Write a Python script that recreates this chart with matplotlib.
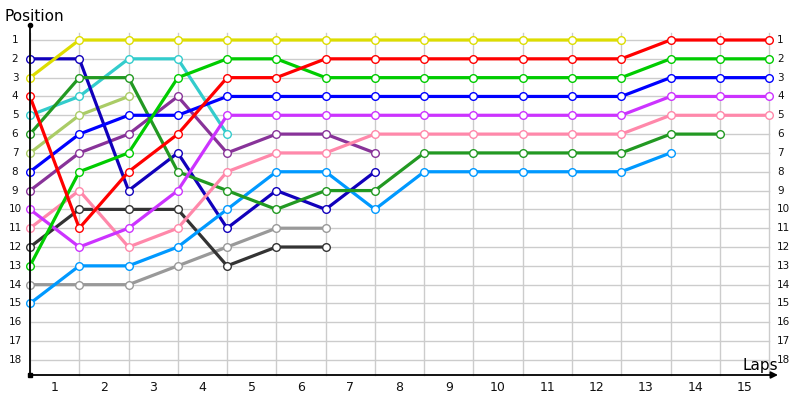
import matplotlib
matplotlib.use("Agg")
import matplotlib.pyplot as plt

# lap chart data: position of each driver after each lap (lap 0 = grid)
yellow = [3, 1, 1, 1, 1, 1, 1, 1, 1, 1, 1, 1, 1]
red = [4, 11, 8, 6, 3, 3, 2, 2, 2, 2, 2, 2, 2, 1, 1, 1]
green = [13, 8, 7, 3, 2, 2, 3, 3, 3, 3, 3, 3, 3, 2, 2, 2]
blue = [8, 6, 5, 5, 4, 4, 4, 4, 4, 4, 4, 4, 4, 3, 3, 3]
violet = [10, 12, 11, 9, 5, 5, 5, 5, 5, 5, 5, 5, 5, 4, 4, 4]
pink = [11, 9, 12, 11, 8, 7, 7, 6, 6, 6, 6, 6, 6, 5, 5, 5]
dark_green = [6, 3, 3, 8, 9, 10, 9, 9, 7, 7, 7, 7, 7, 6, 6]
sky = [15, 13, 13, 12, 10, 8, 8, 10, 8, 8, 8, 8, 8, 7]
indigo = [2, 2, 9, 7, 11, 9, 10, 8]
plum = [9, 7, 6, 4, 7, 6, 6, 7]
cyan = [5, 4, 2, 2, 6]
lime = [7, 5, 4]
charcoal = [12, 10, 10, 10, 13, 12, 12]
grey = [14, 14, 14, 13, 12, 11, 11]

series = [
    (grey, "#999999"),
    (charcoal, "#333333"),
    (lime, "#aacc66"),
    (cyan, "#33cccc"),
    (plum, "#883399"),
    (indigo, "#1100bb"),
    (sky, "#0099ff"),
    (dark_green, "#229922"),
    (pink, "#ff88aa"),
    (violet, "#cc33ff"),
    (blue, "#0000ff"),
    (green, "#00cc00"),
    (red, "#ff0000"),
    (yellow, "#dddd00"),
]

laps = list(range(1, 16))
positions = list(range(1, 19))

fig = plt.figure(figsize=(8, 4), dpi=100)
ax = fig.add_axes([0, 0, 1, 1])
px_x = 49.27
px_y = 18.82
ax.set_xlim(-30 / px_x, (800 - 30) / px_x)
ax.set_ylim(1 + 360 / px_y, 1 - 40 / px_y)
ax.axis("off")

grid_col = "#cccccc"
for p in positions:
    ax.plot([0, 15], [p, p], color=grid_col, lw=1, zorder=1)
for i in range(0, 16):
    ax.plot([i, i], [1 - 7 / px_y, 1 + 335 / px_y], color=grid_col, lw=1, zorder=1)

for vals, col in series:
    xs = list(range(len(vals)))
    ax.plot(xs, vals, color=col, lw=2.3, marker="o", markersize=5.5,
            markerfacecolor="white", markeredgecolor=col, markeredgewidth=1.0,
            zorder=3, solid_capstyle="butt")

# axes lines
y_bot = 1 + 335 / px_y
y_top = 1 - 15 / px_y
ax.plot([0, 0], [y_bot, y_top], color="black", lw=1.3, zorder=4)
ax.plot([0], [y_top], "o", color="black", markersize=3, zorder=4)
ax.plot([0], [y_bot], "s", color="black", markersize=3, zorder=4)
ax.annotate("", xy=(748 / px_x, y_bot), xytext=(0, y_bot),
            arrowprops=dict(arrowstyle="-|>", color="black", lw=1.3,
                            mutation_scale=10, shrinkA=0, shrinkB=0), zorder=4)

for p in positions:
    ax.text(-15 / px_x, p, str(p), ha="center", va="center", fontsize=7.5, color="#111111")
    ax.text(747 / px_x, p, str(p), ha="left", va="center", fontsize=7.5, color="#111111")
for lap in laps:
    ax.text(lap - 0.5, 1 + 348 / px_y, str(lap), ha="center", va="center", fontsize=9, color="#111111")

ax.text(-26 / px_x, 1 - 19 / px_y, "Position", ha="left", va="baseline", fontsize=11)
ax.text(713 / px_x, 1 + 330 / px_y, "Laps", ha="left", va="baseline", fontsize=11)

fig.savefig("out.png", dpi=100)
